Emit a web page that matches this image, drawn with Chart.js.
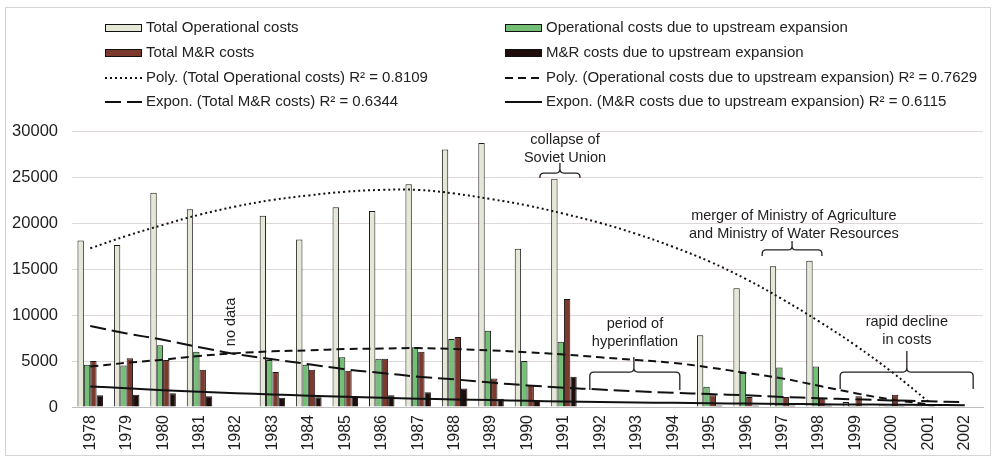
<!DOCTYPE html>
<html>
<head>
<meta charset="utf-8">
<script src="https://cdn.jsdelivr.net/npm/chart.js@4.4.1/dist/chart.umd.min.js"></script>
<style>
  html, body { margin: 0; padding: 0; background: #fff; }
  #wrap { width: 997px; height: 458px; position: relative; }
</style>
</head>
<body>
<div id="wrap"><canvas id="chart-costs"></canvas></div>
<script>
const years = ['1978', '1979', '1980', '1981', '1982', '1983', '1984', '1985', '1986', '1987', '1988', '1989', '1990',
  '1991', '1992', '1993', '1994', '1995', '1996', '1997', '1998', '1999', '2000', '2001', '2002'];

const totalOperational = [18100, 17600, 23300, 21500, null, 20800, 18200, 21700, 21300, 24200, 28000, 28700, 17200,
  24800, null, null, null, 7800, 12900, 15300, 15900, 550, 200, 100, null];
const operationalUpstream = [4600, 4500, 6700, 6000, null, 5100, 4600, 5400, 5250, 6500, 7400, 8300, 5000,
  7100, null, null, null, 2200, 3700, 4300, 4400, 100, 100, 50, null];
const totalMR = [5000, 5300, 5100, 4050, null, 3800, 4050, 3950, 5250, 6000, 7600, 3100, 2350,
  11750, null, null, null, 1270, 1100, 1100, 1000, 1160, 1340, 100, null];
const mrUpstream = [1270, 1340, 1500, 1160, null, 1000, 1050, 1160, 1270, 1600, 2000, 900, 700,
  3300, null, null, null, 150, 150, 150, 150, 80, 100, 50, null];

// trendlines at each year
const polyTotalOperational = [17250, 18600, 19800, 20900, 21800, 22500, 23000, 23400, 23600, 23600, 23200, 22600, 21900,
  21000, 20000, 18800, 17400, 15800, 13900, 11700, 9300, 6700, 3800, 600, null];
const polyOperationalUpstream = [4400, 4800, 5150, 5550, 5850, 6050, 6150, 6300, 6350, 6400, 6300, 6150, 5950,
  5700, 5400, 5100, 4800, 4300, 3700, 3100, 2300, 1500, 800, 300, null];
const exponTotalMR = [8800, 8000, 7300, 6500, 5750, 5200, 4650, 4100, 3700, 3300, 3000, 2650, 2350,
  2100, 1900, 1700, 1550, 1400, 1270, 1100, 950, 830, 720, 620, 530];
const exponMRUpstream = [2240, 2030, 1830, 1660, 1500, 1360, 1230, 1110, 1010, 910, 820, 750, 670,
  610, 550, 500, 450, 410, 370, 330, 300, 270, 250, 220, 200];

const rSquared = ['0.8109', '0.7629', '0.6344', '0.6115'];
const yTicks = [0, 5000, 10000, 15000, 20000, 25000, 30000];

const FONT = '"Liberation Sans", Arial, sans-serif';
Chart.defaults.font.family = FONT;
Chart.defaults.color = '#1e1e1e';

// notes on the chart: x is a category index, y a value on the axis
const notes = [
  { lines: ['collapse of', 'Soviet Union'], x: 13.03, y: 29020 },
  { lines: ['period of', 'hyperinflation'], x: 14.95, y: 9020 },
  { lines: ['merger of Ministry of Agriculture', 'and Ministry of Water Resources'], x: 19.31, y: 20760 },
  { lines: ['rapid decline', 'in costs'], x: 22.41, y: 9240 }
];
const braces = [
  { from: 12.34, to: 13.44, tip: 12.89, y: 25430, rise: 10, drop: 5 },
  { from: 13.71, to: 16.18, tip: 14.92, y: 3800, rise: 15, drop: 18 },
  { from: 18.44, to: 20.08, tip: 19.26, y: 17070, rise: 9, drop: 6 },
  { from: 20.58, to: 24.23, tip: 22.41, y: 3800, rise: 21, drop: 17 }
];

function drawBrace(ctx, x1, x2, xm, y, rise, drop) {
  const r = 4;
  ctx.beginPath();
  ctx.moveTo(x1, y + drop);
  ctx.lineTo(x1, y + r);
  ctx.quadraticCurveTo(x1, y, x1 + r, y);
  ctx.lineTo(xm - r, y);
  ctx.quadraticCurveTo(xm, y, xm, y - r);
  ctx.lineTo(xm, y - rise);
  ctx.moveTo(xm, y - r);
  ctx.quadraticCurveTo(xm, y, xm + r, y);
  ctx.lineTo(x2 - r, y);
  ctx.quadraticCurveTo(x2, y, x2, y + r);
  ctx.lineTo(x2, y + drop);
  ctx.stroke();
}

const notesPlugin = {
  id: 'notes',
  afterDatasetsDraw(chart) {
    const { ctx, scales: { x, y } } = chart;
    ctx.save();
    ctx.fillStyle = '#222';
    ctx.strokeStyle = '#222';
    ctx.lineWidth = 1.3;
    ctx.font = '14.5px ' + FONT;
    ctx.textAlign = 'center';
    ctx.textBaseline = 'middle';
    notes.forEach(n => {
      const px = x.getPixelForValue(n.x);
      const py = y.getPixelForValue(n.y);
      n.lines.forEach((t, i) => ctx.fillText(t, px, py + i * 18));
    });
    braces.forEach(b => {
      drawBrace(ctx, x.getPixelForValue(b.from), x.getPixelForValue(b.to), x.getPixelForValue(b.tip),
        y.getPixelForValue(b.y), b.rise, b.drop);
    });
    // "no data" over the empty 1982 slot
    ctx.translate(x.getPixelForValue(3.86), y.getPixelForValue(9240));
    ctx.rotate(-Math.PI / 2);
    ctx.fillText('no data', 0, 0);
    ctx.restore();
  }
};

// two-column legend above the plot
const legendPlugin = {
  id: 'twoColLegend',
  afterDraw(chart) {
    const ctx = chart.ctx;
    const cols = [105, 505];
    const rowY = [28, 53, 78, 102];
    ctx.save();
    ctx.font = '15px ' + FONT;
    ctx.textBaseline = 'middle';
    ctx.textAlign = 'left';
    chart.data.datasets.forEach((ds, i) => {
      const cx = cols[i % 2];
      const cy = rowY[Math.floor(i / 2)];
      if (ds.type === 'line') {
        ctx.strokeStyle = ds.borderColor;
        ctx.lineWidth = ds.borderWidth;
        ctx.setLineDash(ds.borderDash || []);
        ctx.beginPath();
        ctx.moveTo(cx, cy);
        ctx.lineTo(cx + 37, cy);
        ctx.stroke();
        ctx.setLineDash([]);
      } else {
        ctx.fillStyle = ds.backgroundColor;
        ctx.fillRect(cx, cy - 4, 37, 8);
        ctx.strokeStyle = '#111';
        ctx.lineWidth = 1;
        ctx.strokeRect(cx + 0.5, cy - 3.5, 36, 7);
      }
      ctx.fillStyle = '#222';
      let label = ds.label;
      if (ds.r2) label += ' R\u00B2 = ' + ds.r2;
      ctx.fillText(label, cx + 41, cy);
    });
    // light frame round the whole figure
    ctx.strokeStyle = '#d4d4d4';
    ctx.lineWidth = 1;
    ctx.strokeRect(5.5, 7.5, 985, 448);
    ctx.restore();
  }
};

const barStyle = { borderColor: '#1a1a1a', borderWidth: 1, categoryPercentage: 0.7, barPercentage: 1.0, order: 2 };
const lineStyle = { type: 'line', borderColor: '#111', borderWidth: 2, pointRadius: 0, fill: false, tension: 0.4, order: 1 };

new Chart(document.getElementById('chart-costs'), {
  type: 'bar',
  data: {
    labels: years,
    datasets: [
      { ...barStyle, label: 'Total Operational costs', data: totalOperational, backgroundColor: '#e5e7d7' },
      { ...barStyle, label: 'Operational costs due to upstream expansion', data: operationalUpstream, backgroundColor: '#74bf76' },
      { ...barStyle, label: 'Total M&R costs', data: totalMR, backgroundColor: '#7b3a2d' },
      { ...barStyle, label: 'M&R costs due to upstream expansion', data: mrUpstream, backgroundColor: '#1f0d0b' },
      { ...lineStyle, label: 'Poly. (Total Operational costs)', r2: rSquared[0], data: polyTotalOperational, borderDash: [2, 3] },
      { ...lineStyle, label: 'Poly. (Operational costs due to upstream expansion)', r2: rSquared[1], data: polyOperationalUpstream, borderDash: [8, 5] },
      { ...lineStyle, label: 'Expon. (Total M&R costs)', r2: rSquared[2], data: exponTotalMR, borderDash: [16, 6] },
      { ...lineStyle, label: 'Expon. (M&R costs due to upstream expansion)', r2: rSquared[3], data: exponMRUpstream }
    ]
  },
  options: {
    responsive: true,
    maintainAspectRatio: false,
    animation: false,
    layout: { padding: { top: 131, left: 10, right: 14, bottom: 4 } },
    plugins: {
      legend: { display: false },
      tooltip: { enabled: false }
    },
    scales: {
      x: {
        grid: { display: false, drawTicks: false },
        border: { display: true, color: '#bdbdbd', width: 1 },
        ticks: { minRotation: 90, maxRotation: 90, autoSkip: false, padding: 8, font: { size: 16 } },
        afterFit: s => { s.height = 47; }
      },
      y: {
        min: 0,
        max: 30000,
        afterBuildTicks: s => { s.ticks = yTicks.map(v => ({ value: v })); },
        grid: { color: '#e0d8d6', drawTicks: false },
        border: { display: false },
        ticks: { padding: 14, font: { size: 16.5 }, callback: v => String(v) },
        afterFit: s => { s.width = 62; }
      }
    }
  },
  plugins: [notesPlugin, legendPlugin]
});
</script>
</body>
</html>
